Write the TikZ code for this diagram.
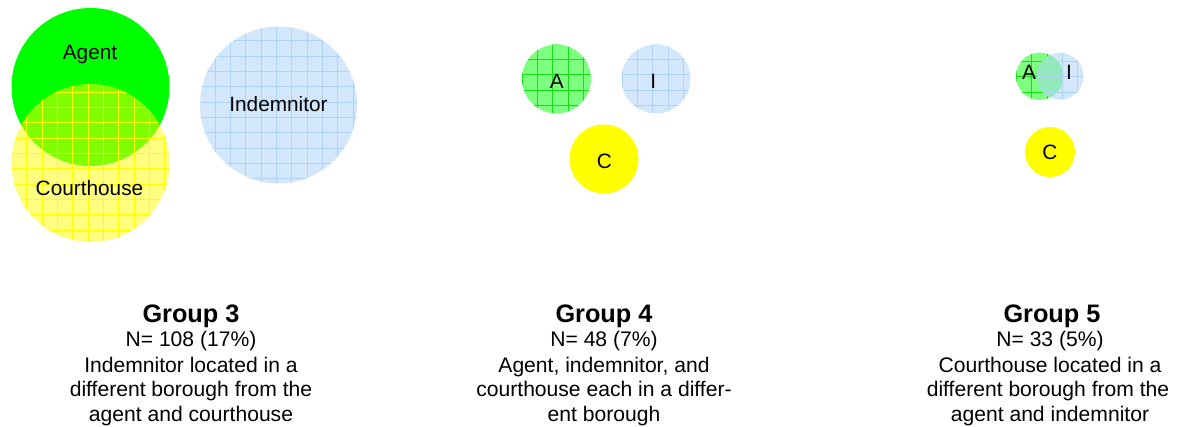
\documentclass[tikz,border=0pt]{standalone}
\usepackage{fontspec}
\setmainfont{Liberation Sans}
\begin{document}
\begin{tikzpicture}[x=1pt,y=-1pt,
  lbl/.style={anchor=base,inner sep=0pt,font=\fontsize{20.8}{24}\selectfont},
  body/.style={anchor=base,inner sep=0pt,font=\fontsize{21.1}{24}\selectfont},
  ttl/.style={anchor=base,inner sep=0pt,font=\fontsize{25.3}{28}\selectfont\bfseries},
  disc/.style={circle,inner sep=0pt,draw=none},
  ygrid/.style={line width=0.8pt,draw={rgb,255:red,255;green,255;blue,0}},
  bgrid/.style={line width=0.7pt,draw={rgb,255:red,175;green,210;blue,245}},
  ggrid/.style={line width=0.8pt,draw={rgb,255:red,20;green,225;blue,20}}]
\definecolor{agentgreen}{RGB}{0,255,0}
\definecolor{courtyellow}{RGB}{255,255,0}
\definecolor{indblue}{RGB}{167,207,249}
\newcommand\hatchcircle[6]{%
  \begin{scope}
  \clip (#1,#2) circle[radius=#3];
  \foreach \k in {-12,...,12}{
    \draw[#6] ({#4+\k*15.33},{#2-#3}) -- ({#4+\k*15.33},{#2+#3});
    \draw[#6] ({#1-#3},{#5+\k*15.33}) -- ({#1+#3},{#5+\k*15.33});
  }
  \end{scope}}
\useasboundingbox (0,0) rectangle (1179,427);
% ---------- Group 3 ----------
\node[disc,minimum size=158pt,fill=agentgreen] (agent3) at (90.5,87) {};
\node[disc,minimum size=158pt,fill=courtyellow,fill opacity=0.5] (court3) at (90.5,163) {};
\hatchcircle{90.5}{163}{79}{26.7}{92}{ygrid}
\node[disc,minimum size=157pt,fill=indblue,fill opacity=0.5] (ind3) at (278.5,105) {};
\hatchcircle{278.5}{105}{78.5}{215}{102}{bgrid}
\node[lbl] (agent3l) at (90,60) {Agent};
\node[lbl] (court3l) at (89.5,196) {Courthouse};
\node[lbl] (ind3l) at (278.5,111.7) {Indemnitor};
% ---------- Group 4 ----------
\node[disc,minimum size=69pt,fill=agentgreen,fill opacity=0.5] (agent4) at (556.5,79) {};
\hatchcircle{556.5}{79}{34.5}{537.3}{59.3}{ggrid}
\node[disc,minimum size=69pt,fill=indblue,fill opacity=0.5] (ind4) at (656,79) {};
\hatchcircle{656}{79}{34.5}{637.3}{59.3}{bgrid}
\node[disc,minimum size=69pt,fill=courtyellow] (court4) at (604,159) {};
\node[lbl] (agent4l) at (556.7,88.3) {A};
\node[lbl] (ind4l) at (653.3,88.3) {I};
\node[lbl] (court4l) at (604.3,169) {C};
% ---------- Group 5 ----------
\node[disc,minimum size=47.4pt,fill=agentgreen,fill opacity=0.5] (agent5) at (1039.7,76.3) {};
\hatchcircle{1039.7}{76.3}{23.7}{1031.7}{76.7}{ggrid}
\node[disc,minimum size=47pt,fill=indblue,fill opacity=0.5] (ind5) at (1060,76.3) {};
\hatchcircle{1060}{76.3}{23.5}{1047}{76.7}{bgrid}
\node[disc,minimum size=50pt,fill=courtyellow] (court5) at (1050,152) {};
\node[lbl] (agent5l) at (1029,80) {A};
\node[lbl] (ind5l) at (1069,80) {I};
\node[lbl] (court5l) at (1050,160) {C};
% ---------- captions ----------
\node[ttl] (g3t) at (191,323) {Group 3};
\node[body] (g3n) at (191,347) {N= 108 (17\%)};
\node[body] (g3a) at (191,372.5) {Indemnitor located in a};
\node[body] (g3b) at (191,397) {different borough from the};
\node[body] (g3c) at (191,421.5) {agent and courthouse};
\node[ttl] (g4t) at (604,323) {Group 4};
\node[body] (g4n) at (604,347) {N= 48 (7\%)};
\node[body] (g4a) at (604,372.5) {Agent, indemnitor, and};
\node[body] (g4b) at (604,397) {courthouse each in a differ-};
\node[body] (g4c) at (604,421.5) {ent borough};
\node[ttl] (g5t) at (1052,323) {Group 5};
\node[body] (g5n) at (1050,347) {N= 33 (5\%)};
\node[body] (g5a) at (1050,372.5) {Courthouse located in a};
\node[body] (g5b) at (1048,397) {different borough from the};
\node[body] (g5c) at (1050,421.5) {agent and indemnitor};
\end{tikzpicture}
\end{document}
